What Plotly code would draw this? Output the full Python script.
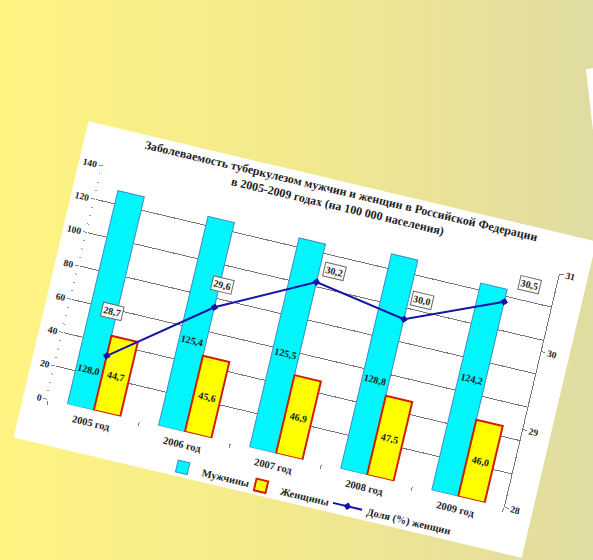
import plotly.graph_objects as go

categories = ["2005 год", "2006 год", "2007 год", "2008 год", "2009 год"]
men = [128.0, 125.4, 125.5, 128.8, 124.2]
women = [44.7, 45.6, 46.9, 47.5, 46.0]
share = [28.7, 29.6, 30.2, 30.0, 30.5]

title_l1 = "Заболеваемость туберкулезом мужчин и женщин в Российской Федерации"
title_l2 = "в 2005-2009 годах (на 100 000 населения)"

FONT = "Liberation Serif"
TXT = "#1e1e1e"

def fmt(v):
    return f"{v:.1f}".replace(".", ",")

fig = go.Figure()
fig.add_trace(go.Bar(
    name="Мужчины", x=categories, y=men, legend="legend",
    marker=dict(color="#00F6FA", line=dict(color="#3C8CC8", width=1)),
))
fig.add_trace(go.Bar(
    name="Женщины", x=categories, y=women, legend="legend2",
    marker=dict(color="#FFFF00", line=dict(color="#D01E0A", width=2)),
    text=[fmt(v) for v in women], textposition="inside", insidetextanchor="middle",
    textangle=0, textfont=dict(family=FONT, size=10, color=TXT, weight="bold"),
))
fig.add_trace(go.Scatter(
    name="Доля (%) женщин", x=categories, y=share, yaxis="y2", legend="legend3",
    mode="lines+markers",
    line=dict(color="#1414A8", width=2),
    marker=dict(symbol="diamond", size=6, color="#1414A8"),
))

# men value labels (inside bars)
men_yshift = [-71, -17, -8, -16, 11]
for c, v, ys in zip(categories, men, men_yshift):
    fig.add_annotation(x=c, y=v / 2, xref="x", yref="y", text=fmt(v), showarrow=False,
                       xshift=-14, yshift=ys,
                       font=dict(family=FONT, size=10, color=TXT, weight="bold"))

# share value labels (boxed)
sh_xshift = [-5, 3, 15, 13, 21]
sh_yshift = [45, 24, 15, 23, 23]
for c, v, xs, ys in zip(categories, share, sh_xshift, sh_yshift):
    fig.add_annotation(x=c, y=v, xref="x", yref="y2", text=fmt(v), showarrow=False,
                       xshift=xs, yshift=ys, bgcolor="white", bordercolor="#666",
                       borderwidth=1, borderpad=1,
                       font=dict(family=FONT, size=10, color=TXT, weight="bold"))

legend_font = dict(family=FONT, size=10.5, color=TXT, weight="bold")

def leg(x):
    return dict(orientation="h", x=x, xanchor="left", y=-0.146, yanchor="middle",
                font=legend_font, itemwidth=30, bgcolor="rgba(0,0,0,0)")

fig.update_layout(
    width=522, height=325,
    margin=dict(l=25, r=29, t=40, b=45, autoexpand=False),
    paper_bgcolor="white", plot_bgcolor="white",
    barmode="group", bargap=0.42, bargroupgap=0,
    separators=", ",
    font=dict(family=FONT, size=10, color=TXT),
    title=dict(text=title_l1 + "<br>" + title_l2, x=0.502, xanchor="center",
               y=0.958, yanchor="middle",
               font=dict(family=FONT, size=12, color=TXT, weight="bold")),
    showlegend=True,
    legend=leg(0.27),
    legend2=leg(0.442),
    legend3=leg(0.632),
    xaxis=dict(showline=False, ticks="outside", tickson="boundaries", ticklen=4,
               tickcolor="#777", showgrid=False, ticklabelstandoff=5,
               tickfont=dict(family=FONT, size=10.5, color=TXT, weight="bold")),
    yaxis=dict(range=[0, 140], dtick=20, showgrid=True, gridcolor="#777", gridwidth=1,
               zeroline=False, showline=False, ticks="outside", ticklen=4, tickcolor="#888",
               minor=dict(dtick=5, ticks="outside", ticklen=2, tickcolor="#999", showgrid=False),
               tickfont=dict(family=FONT, size=9.5, color=TXT, weight="bold")),
    yaxis2=dict(range=[28, 31], dtick=1, overlaying="y", side="right", showgrid=False,
                zeroline=False, showline=True, linecolor="#777", linewidth=1,
                ticks="outside", ticklen=4, tickcolor="#777",
                tickfont=dict(family=FONT, size=9.5, color=TXT, weight="bold")),
)

post = """
var gd = document.getElementById('{plot_id}');
document.documentElement.style.margin = '0';
document.documentElement.style.height = '100%';
document.body.style.margin = '0';
document.body.style.height = '100%';
document.body.style.overflow = 'hidden';
document.body.style.background = 'linear-gradient(to right, #fff482 0%, #f2e98e 50%, #e0dca2 100%)';
gd.style.position = 'absolute';
gd.style.left = '44px';
gd.style.top = '177px';
gd.style.transformOrigin = '50% 50%';
gd.style.transform = 'rotate(13.3deg)';
gd.style.zIndex = '2';
var sheet = document.createElement('div');
sheet.style.position = 'absolute';
sheet.style.left = '586px';
sheet.style.top = '69px';
sheet.style.width = '300px';
sheet.style.height = '500px';
sheet.style.background = 'white';
sheet.style.transformOrigin = '0 0';
sheet.style.transform = 'rotate(-6.5deg)';
sheet.style.zIndex = '1';
document.body.appendChild(sheet);
"""

fig.write_html("out.html", config={"displayModeBar": False}, post_script=post)
